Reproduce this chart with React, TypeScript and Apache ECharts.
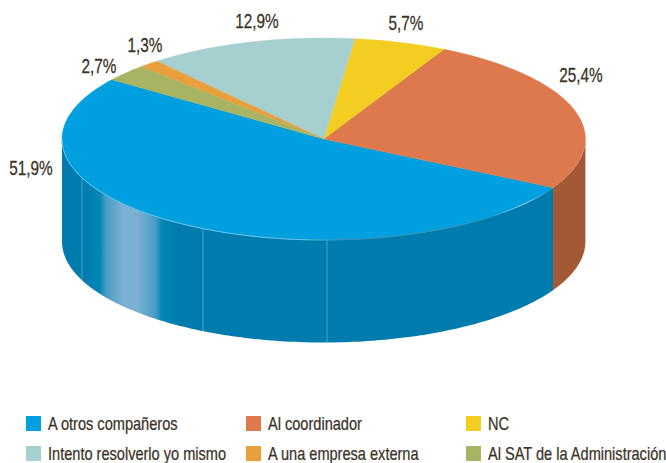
import React, { useEffect, useRef } from "react";
import * as echarts from "echarts";

const categories = [
  "A otros compañeros",
  "Al coordinador",
  "NC",
  "Intento resolverlo yo mismo",
  "A una empresa externa",
  "Al SAT de la Administración",
];
const values = [51.9, 25.4, 5.7, 12.9, 1.3, 2.7];
const labelTexts = ["51,9%", "25,4%", "5,7%", "12,9%", "1,3%", "2,7%"];

const topColors = ["#00A0E0", "#DE784D", "#F4CD23", "#A6CFCF", "#E9A03C", "#A8B363"];
const wallDark = "#007BAD";
const wallColors = [wallDark, "#A55836", "#B89A1A", "#7D9C9C", "#AF782D", "#7E864A"];
const labelAnchors = [
  [31, 168],
  [581, 75],
  [406, 23],
  [257, 21],
  [145, 45],
  [99, 66],
];
const legendSlots = [
  [26, 416],
  [246, 416],
  [466, 416],
  [26, 446],
  [246, 446],
  [466, 446],
];
const legendOrder = [0, 1, 2, 3, 4, 5];

const CX = 323.7;
const CY = 139;
const RX = 261.7;
const RY = 101;
const DEPTH = 102.5;
const BASE_ANGLE = 28.8;
const SEPARATORS = [82, 203, 327];
const FONT = '"Liberation Sans", sans-serif';
const INK = "#3A3226";
const LABEL_SCALE = 0.73;
const LEGEND_SCALE = 0.81;

const sweeps = values.map((v) => v * 3.6);
const othersSweep = sweeps.slice(1).reduce((a, b) => a + b, 0);

const pt = (deg: number, dy = 0): number[] => {
  const r = (deg * Math.PI) / 180;
  return [CX + RX * Math.cos(r), CY + RY * Math.sin(r) + dy];
};

const arc = (from: number, to: number, dy = 0): number[][] => {
  const n = Math.max(2, Math.ceil(Math.abs(to - from)));
  const out: number[][] = [];
  for (let i = 0; i <= n; i++) out.push(pt(from + ((to - from) * i) / n, dy));
  return out;
};

const stop = (x: number) => (x - 62) / (553 - 62);
const blueWallFill = {
  type: "linear",
  global: true,
  x: 62,
  y: 0,
  x2: 553,
  y2: 0,
  colorStops: [
    { offset: 0, color: wallDark },
    { offset: stop(84), color: wallDark },
    { offset: stop(100), color: "#0088B5" },
    { offset: stop(106), color: "#4A9CC4" },
    { offset: stop(123), color: "#7BB0D2" },
    { offset: stop(137), color: "#7BB0D2" },
    { offset: stop(155), color: "#4A9CC4" },
    { offset: stop(162), color: "#0088B5" },
    { offset: stop(178), color: wallDark },
    { offset: 1, color: wallDark },
  ],
};
const rimStroke = {
  type: "linear",
  global: true,
  x: 62,
  y: 0,
  x2: 553,
  y2: 0,
  colorStops: [
    { offset: 0, color: "#6CC4EA" },
    { offset: stop(300), color: "#6CC4EA" },
    { offset: stop(340), color: "#3F8FB0" },
    { offset: stop(460), color: "#3F8FB0" },
    { offset: stop(490), color: "#1D9CCB" },
    { offset: stop(525), color: "#A5D2E8" },
    { offset: stop(548), color: "#1D9CCB" },
    { offset: 1, color: "#1D9CCB" },
  ],
};

const makeRender = (index: number) => (_params: any, api: any) => {
  let lo: number;
  let hi: number;
  if (index === 0) {
    lo = BASE_ANGLE;
    hi = BASE_ANGLE + 360 - othersSweep;
  } else {
    const before = sweeps.slice(1, index).reduce((a, b) => a + b, 0);
    hi = BASE_ANGLE - before;
    lo = hi - api.value(0) * 3.6;
  }
  const children: any[] = [];

  const wallLo = Math.max(lo, 0);
  const wallHi = Math.min(hi, 180);
  if (wallHi > wallLo) {
    const points = arc(wallLo, wallHi).concat(arc(wallHi, wallLo, DEPTH));
    children.push({
      type: "polygon",
      shape: { points },
      style: {
        fill: index === 0 ? blueWallFill : wallColors[index],
        stroke: null,
      },
    });
  }
  if (index === 0) {
    SEPARATORS.forEach((x) => {
      const u = (x - CX) / RX;
      const y = CY + RY * Math.sqrt(1 - u * u);
      children.push({
        type: "line",
        shape: { x1: x, y1: y, x2: x, y2: y + DEPTH },
        style: { stroke: "rgba(170,215,235,0.55)", lineWidth: 0.8 },
      });
    });
  }

  children.push({
    type: "polygon",
    shape: { points: [[CX, CY] as number[]].concat(arc(lo, hi)) },
    style: { fill: topColors[index], stroke: topColors[index], lineWidth: 0.4 },
  });
  if (index === 0) {
    children.push({
      type: "polyline",
      shape: { points: arc(BASE_ANGLE + 0.5, 180) },
      style: { fill: null, stroke: rimStroke, lineWidth: 1 },
    });
  }

  const [lx, ly] = labelAnchors[index];
  children.push({
    type: "text",
    x: lx,
    y: ly,
    scaleX: LABEL_SCALE,
    style: {
      text: labelTexts[index],
      x: 0,
      y: 0,
      fill: INK,
      stroke: INK,
      lineWidth: 0.3,
      fontFamily: FONT,
      fontSize: 21,
      align: "center",
      verticalAlign: "middle",
    },
  });
  return { type: "group", children };
};

const legendGraphics = legendOrder.flatMap((catIndex, slot) => {
  const [x, y] = legendSlots[slot];
  return [
    {
      type: "rect",
      silent: true,
      shape: { x, y, width: 15, height: 15 },
      style: { fill: topColors[catIndex] },
    },
    {
      type: "text",
      silent: true,
      x: x + 22,
      y: y + 7,
      scaleX: LEGEND_SCALE,
      style: {
        text: categories[catIndex],
        x: 0,
        y: 0,
        fill: INK,
        stroke: INK,
        lineWidth: 0.25,
        fontFamily: FONT,
        fontSize: 18,
        align: "left",
        verticalAlign: "middle",
      },
    },
  ];
});

export default function App() {
  const ref = useRef<HTMLDivElement>(null);
  useEffect(() => {
    const chart = echarts.init(ref.current!, undefined, { renderer: "svg" });
    chart.setOption({
      animation: false,
      backgroundColor: "#ffffff",
      graphic: legendGraphics,
      series: categories.map((name, i) => ({
        type: "custom",
        name,
        coordinateSystem: "none",
        silent: true,
        itemStyle: { color: topColors[i] },
        renderItem: makeRender(i),
        data: [values[i]],
      })),
    });
    return () => chart.dispose();
  }, []);
  return (
    <div
      ref={ref}
      style={{ position: "absolute", left: 0, top: 0, width: 666, height: 463 }}
    />
  );
}
